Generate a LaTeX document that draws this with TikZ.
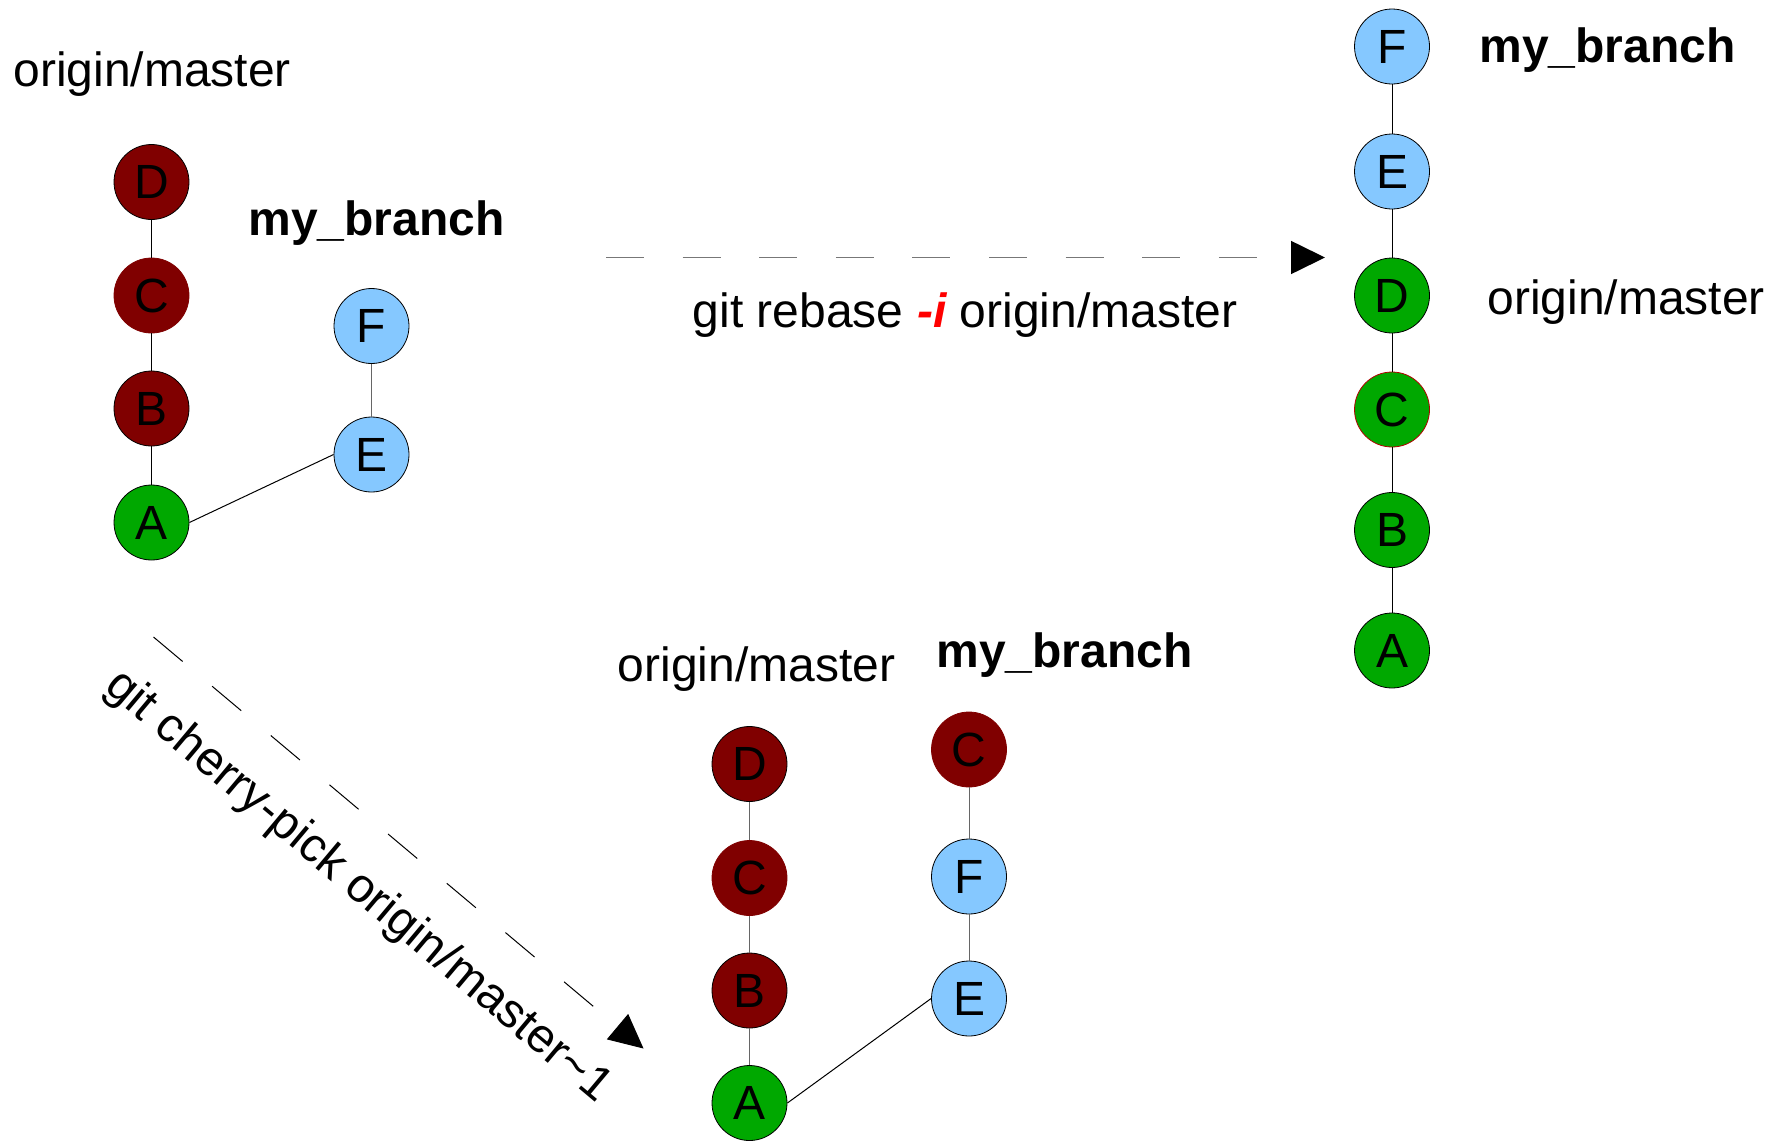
\documentclass[tikz,border=0pt]{standalone}
\usepackage{fontspec}
\setmainfont{Liberation Sans}
\usetikzlibrary{arrows.meta}
\definecolor{dred}{HTML}{800000}
\definecolor{cgreen}{HTML}{00A800}
\definecolor{cblue}{HTML}{85C8FF}
\definecolor{lgray}{HTML}{777777}
\begin{document}
\begin{tikzpicture}[x=0.5pt,y=-0.5pt,
  commit/.style={circle, minimum size=37.5pt, inner sep=0pt, draw=black, line width=0.4pt, font=\fontsize{24}{24}\selectfont},
  cred/.style={commit, fill=dred},
  cgrn/.style={commit, fill=cgreen},
  cblu/.style={commit, fill=cblue},
  nob/.style={draw=dred},
  redline/.style={draw=red!70!black},
  lbl/.style={anchor=base west, inner sep=0pt, font=\fontsize{24}{24}\selectfont},
  blbl/.style={anchor=base west, inner sep=0pt, font=\fontsize{24}{24}\selectfont\bfseries},
  link/.style={line width=0.5pt, draw=black},
  glink/.style={line width=0.5pt, draw=black!60},
  dasharrow/.style={dash pattern=on 19pt off 19.3pt, -{Triangle[length=17pt,width=16.5pt,color=black]}}
]
\path[fill=white, use as bounding box] (0,0) rectangle (1783,1141);

% ---------- top-left: before ----------
\node[cred] (tD) at (151.5,182) {D};
\node[cred, nob] (tC) at (151.5,295.5) {C};
\node[cred] (tB) at (151.5,408.5) {B};
\node[cgrn] (tA) at (151.5,522.5) {A};
\node[cblu] (tF) at (371.5,326) {F};
\node[cblu] (tE) at (371.5,454.5) {E};
\draw[link] (tD) -- (tC);
\draw[link] (tC) -- (tB);
\draw[link] (tB) -- (tA);
\draw[link] (tA.east) -- (tE.west);
\draw[glink] (tE) -- (tF);
\node[lbl] (tOM) at (13,86.5) {origin/master};
\node[blbl] (tMB) at (248,235.5) {my\_branch};

% ---------- rebase arrow ----------
\coordinate (r1) at (606,257.5);
\coordinate (r2) at (1325,257.5);
\draw[dasharrow, lgray, line width=0.8pt] (r1) -- (r2);
\node[lbl] (rlab) at (692.5,327) {git rebase {\color{red}\bfseries\itshape -i} origin/master};

% ---------- right: after rebase ----------
\node[cblu] (rF) at (1392,46.5) {F};
\node[cblu] (rE) at (1392,171.5) {E};
\node[cgrn] (rD) at (1392,295.5) {D};
\node[cgrn, redline] (rC) at (1392,409.5) {C};
\node[cgrn] (rB) at (1392,530) {B};
\node[cgrn] (rA) at (1392,650.5) {A};
\draw[link] (rF) -- (rE);
\draw[link] (rE) -- (rD);
\draw[link] (rD) -- (rC);
\draw[link] (rC) -- (rB);
\draw[link] (rB) -- (rA);
\node[blbl] (rMB) at (1479,62.5) {my\_branch};
\node[lbl] (rOM) at (1487,314) {origin/master};

% ---------- cherry-pick arrow ----------
\coordinate (c1) at (153.5,637);
\coordinate (c2) at (643.5,1048.5);
\draw[dasharrow, black, line width=0.5pt] (c1) -- (c2);
\node[inner sep=0pt, rotate=-40, font=\fontsize{24}{24}\selectfont] (clab) at (358,887) {git cherry-pick origin/master\textasciitilde 1};

% ---------- bottom: after cherry-pick ----------
\node[cred] (bD) at (749.5,764) {D};
\node[cred, nob] (bC) at (749.5,878) {C};
\node[cred] (bB) at (749.5,990.5) {B};
\node[cgrn] (bA) at (749.5,1103) {A};
\node[cred, nob] (bC2) at (969,749.5) {C};
\node[cblu] (bF) at (969,876.5) {F};
\node[cblu] (bE) at (969,998.5) {E};
\draw[glink] (bD) -- (bC);
\draw[glink] (bC) -- (bB);
\draw[glink] (bB) -- (bA);
\draw[link] (bA.east) -- (bE.west);
\draw[glink] (bE) -- (bF);
\draw[glink] (bF) -- (bC2);
\node[lbl] (bOM) at (617.5,681) {origin/master};
\node[blbl] (bMB) at (936,667.5) {my\_branch};
\end{tikzpicture}
\end{document}
